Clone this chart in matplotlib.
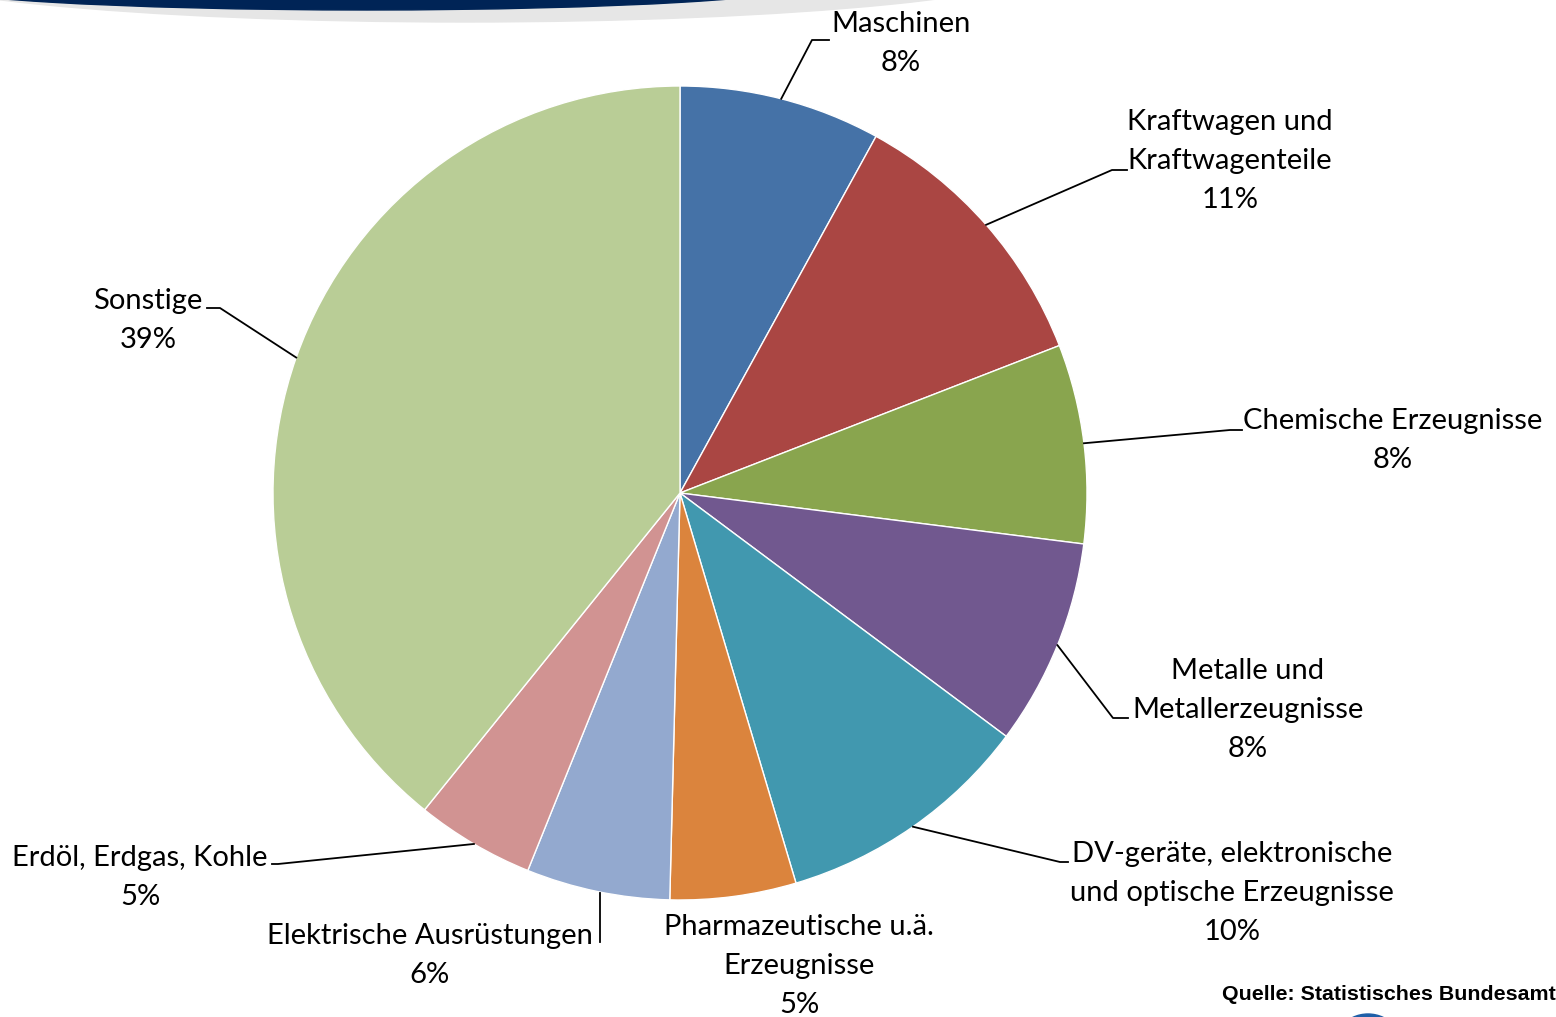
import numpy as np
import matplotlib.pyplot as plt
from matplotlib.patches import Ellipse

# Exporte nach Warengruppen (Anteile in %)
labels = ['Maschinen', 'Kraftwagen und\nKraftwagenteile', 'Chemische Erzeugnisse',
          'Metalle und\nMetallerzeugnisse', 'DV-geräte, elektronische\nund optische Erzeugnisse',
          'Pharmazeutische u.ä.\nErzeugnisse', 'Elektrische Ausrüstungen',
          'Erdöl, Erdgas, Kohle', 'Sonstige']
shares = [8.0, 11.1, 7.9, 8.2, 10.2, 5.0, 5.7, 4.7, 39.2]
pct_text = ['8%', '11%', '8%', '8%', '10%', '5%', '6%', '5%', '39%']
colors = ['#4572A7', '#AA4643', '#89A54E', '#71588F', '#4198AF',
          '#DB843D', '#93A9CF', '#D19392', '#B9CD96']

W, H = 1556, 1017
plt.rcParams['font.family'] = ['Lato', 'DejaVu Sans']

fig = plt.figure(figsize=(W / 100, H / 100), dpi=100)
ax = fig.add_axes([0, 0, 1, 1])

# decorative header swoosh
ax.add_patch(Ellipse((465, H + 38), 1200, 120, color='#E6E6E6', zorder=0))
ax.add_patch(Ellipse((367, H + 17), 900, 54, color='#002456', zorder=1))

cx, cy, r = 680, H - 493, 407
wedges, _ = ax.pie(shares, colors=colors, startangle=90, counterclock=False,
                   center=(cx, cy), radius=r, frame=True,
                   wedgeprops=dict(linewidth=1, edgecolor='white'))
ax.set_xlim(0, W)
ax.set_ylim(0, H)
ax.set_aspect('equal')
ax.axis('off')

# label layout: text centre x, first line y (pixels from top), elbow points
label_pos = [
    (901, 24, [(812, 40), (829, 40)]),
    (1230, 122, [(1112, 170), (1127, 170)]),
    (1393, 421, [(1230, 430), (1242, 430)]),
    (1248, 671, [(1113, 718), (1128, 718)]),
    (1232, 854, [(1060, 862), (1068, 862)]),
    (799, 927, None),
    (430, 936, [(600, 942)]),
    (140, 858, [(278, 864), (272, 864)]),
    (148, 301, [(220, 308), (207, 308)]),
]

for w, lab, pct, (tx, ty, elbow) in zip(wedges, labels, pct_text, label_pos):
    lines = (lab + '\n' + pct).split('\n')
    for i, line in enumerate(lines):
        ax.text(tx, H - (ty + 39 * i), line, ha='center', va='center', fontsize=21)
    if elbow is not None:
        mid = np.deg2rad((w.theta1 + w.theta2) / 2)
        ex, ey = cx + r * np.cos(mid), cy + r * np.sin(mid)
        xs = [ex] + [p[0] for p in elbow]
        ys = [ey] + [H - p[1] for p in elbow]
        if len(elbow) == 1:
            xs = [elbow[0][0], elbow[0][0]]
            ys = [H - 893, H - elbow[0][1]]
        ax.plot(xs, ys, color='black', lw=1.3)

ax.text(1556, H - 994, 'Quelle: Statistisches Bundesamt', ha='right', va='center',
        fontsize=15.4, fontweight='bold', family='Liberation Sans')

# logo remnant bottom right
ax.add_patch(Ellipse((1368, -42), 80, 90, color='#1F5FA8', zorder=1))

fig.savefig('out.png', dpi=100)
